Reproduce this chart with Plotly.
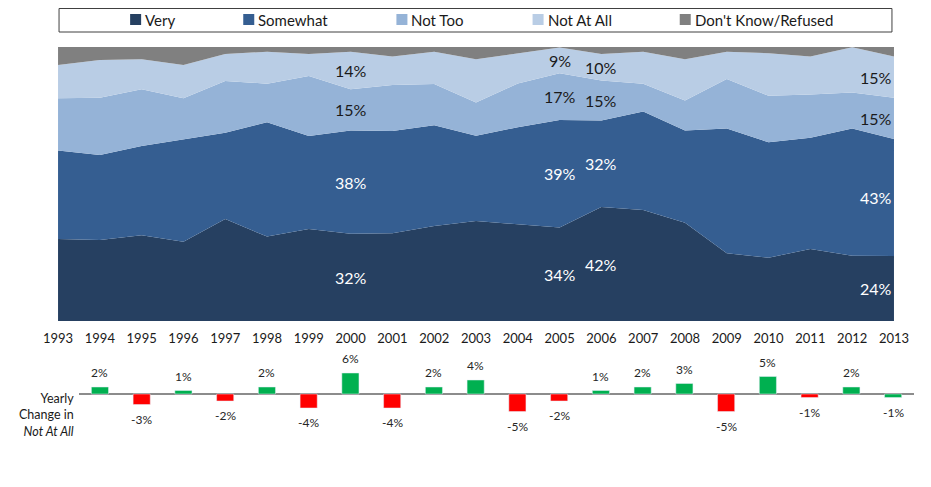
import plotly.graph_objects as go

# Survey shares by year (percent)
years = list(range(1993, 2014))
very = [29.9, 29.6, 31.3, 28.9, 37.2, 30.8, 33.6, 31.8, 32.0, 34.7, 36.5,
        35.3, 34.1, 41.6, 40.5, 35.9, 24.7, 23.1, 26.3, 23.8, 23.7]
somewhat = [32.3, 31.0, 32.6, 37.5, 31.5, 41.7, 33.9, 37.7, 37.3, 36.7, 31.1,
            35.4, 39.3, 31.6, 36.0, 33.6, 45.6, 42.1, 40.6, 46.5, 42.7]
not_too = [19.1, 20.9, 20.7, 14.9, 18.9, 14.1, 21.9, 15.1, 16.8, 15.1, 12.1,
           16.0, 17.0, 14.6, 10.1, 11.0, 18.0, 17.0, 15.8, 13.1, 15.1]
not_at_all = [12.1, 13.8, 10.9, 12.1, 9.8, 11.7, 8.0, 13.7, 10.4, 11.8, 15.8,
              11.0, 9.4, 9.6, 11.7, 15.0, 10.0, 15.5, 13.8, 16.5, 15.0]
dont_know = [6.6, 4.7, 4.5, 6.6, 2.6, 1.7, 2.6, 1.7, 3.5, 1.7, 4.5,
             2.3, 0.2, 2.6, 1.7, 4.5, 1.7, 2.3, 3.5, 0.1, 3.5]

# Yearly change in "Not At All" (1994-2013)
change_years = list(range(1994, 2014))
change = [2, -3, 1, -2, 2, -4, 6, -4, 2, 4, -5, -2, 1, 2, 3, -5, 5, -1, 2, -1]

label_years = [2000, 2005, 2006, 2013]

W, H = 931, 487
FONT = "Lato"
# where the plot lands in the photographed page
OX, OY, PW = 22, 8, 900


def px(x):
    return (x - OX) / PW


def py(y):
    return 1 - (y - OY) / H


series = [
    ("Very", very, "#264061", "white"),
    ("Somewhat", somewhat, "#355E91", "white"),
    ("Not Too", not_too, "#95B3D7", "#1a1a1a"),
    ("Not At All", not_at_all, "#B9CDE5", "#1a1a1a"),
    ("Don't Know/Refused", dont_know, "#808080", None),
]

fig = go.Figure()

for name, vals, color, _ in series:
    fig.add_trace(go.Scatter(
        x=years, y=vals, name=name, mode="lines",
        stackgroup="one", line=dict(width=0, color=color),
        fillcolor=color, showlegend=False, hoverinfo="skip",
        xaxis="x", yaxis="y"))

# value labels in the middle of each layer
annotations = []
for yr in label_years:
    i = years.index(yr)
    base = 0
    for name, vals, color, txtcol in series:
        v = vals[i]
        if txtcol is not None:
            annotations.append(dict(
                x=yr, y=base + v / 2, xref="x", yref="y",
                text=f"{v:.0f}%", showarrow=False,
                xanchor="right" if yr == years[-1] else "center",
                font=dict(family=FONT, size=16, color=txtcol)))
        base += v

# yearly change bars
bar_colors = ["#00B050" if (c > 0 or yr == 2013) else "#FF0000"
              for yr, c in zip(change_years, change)]
fig.add_trace(go.Bar(
    x=change_years, y=change, width=0.41, marker_color=bar_colors,
    showlegend=False, hoverinfo="skip", xaxis="x2", yaxis="y2"))

for yr, c in zip(change_years, change):
    annotations.append(dict(
        x=yr, y=c, xref="x2", yref="y2", text=f"{c}%", showarrow=False,
        yanchor="bottom" if c > 0 else "top", yshift=5 if c > 0 else -5,
        font=dict(family=FONT, size=12, color="#262626")))

annotations.append(dict(
    x=px(75), y=py(415), xref="paper", yref="paper",
    text="Yearly<br>Change in<br><i>Not At All</i>", showarrow=False,
    xanchor="right", yanchor="middle", align="right",
    font=dict(family=FONT, size=12.5, color="#1a1a1a")))

# legend drawn by hand (box, swatches, names)
shapes = [dict(type="rect", xref="paper", yref="paper",
               x0=px(58), x1=px(890), y0=py(32), y1=min(py(6), 1 - 0.5 / H),
               line=dict(color="#404040", width=1), fillcolor="white")]
legend_x = [129, 242, 395, 531, 678]
for (name, _, color, _), lx in zip(series, legend_x):
    shapes.append(dict(type="rect", xref="paper", yref="paper",
                       x0=px(lx), x1=px(lx + 11),
                       y0=py(25), y1=py(14),
                       line=dict(width=0), fillcolor=color))
    annotations.append(dict(
        x=px(lx + 13), y=py(19.5), xref="paper", yref="paper",
        text=name, showarrow=False, xanchor="left", yanchor="middle",
        font=dict(family=FONT, size=15, color="#1a1a1a")))

fig.update_layout(
    width=W, height=H,
    margin=dict(l=0, r=0, t=0, b=0),
    paper_bgcolor="white", plot_bgcolor="white",
    font=dict(family=FONT, color="#1a1a1a"),
    xaxis=dict(domain=[px(57), px(892)], range=[1993, 2013],
               tickvals=years, showgrid=False, zeroline=False,
               showline=False, ticks="", ticklabelstandoff=8,
               tickfont=dict(family=FONT, size=13, color="#1a1a1a")),
    yaxis=dict(domain=[py(321), py(47)], range=[0, 100],
               visible=False),
    xaxis2=dict(domain=[px(78), px(912)], range=[1993.5, 2013.5],
                visible=False, anchor="y2"),
    yaxis2=dict(domain=[py(420), py(366)], range=[-7.43, 8],
                showgrid=False, showticklabels=False, showline=False,
                zeroline=True, zerolinecolor="#8c8c8c", zerolinewidth=1.5,
                anchor="x2"),
    shapes=shapes,
    annotations=annotations,
)

fig.write_html("out.html")
